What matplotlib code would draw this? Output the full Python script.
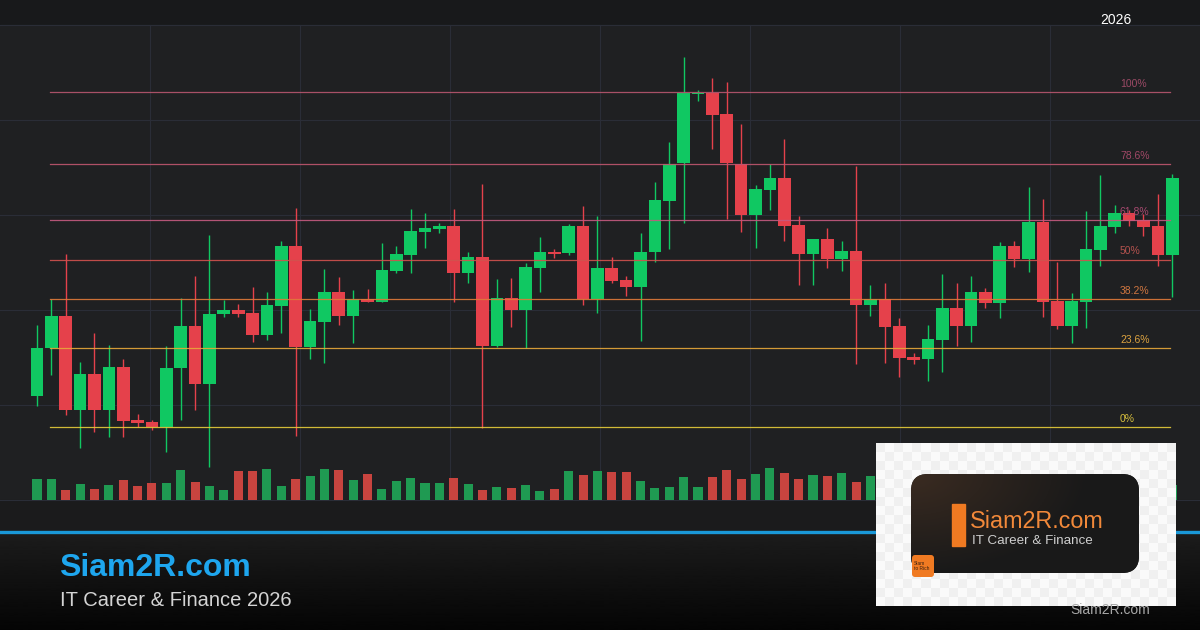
import matplotlib.pyplot as plt
import numpy as np
from matplotlib.patches import FancyBboxPatch, Rectangle

# Daily candles (price units)
opens = [1031, 1079, 1111, 1017, 1053, 1017, 1060, 1007, 1005, 1000,
         1059, 1101, 1043, 1113, 1117, 1114, 1092, 1121, 1181, 1080,
         1105, 1135, 1111, 1128, 1125, 1156, 1172, 1195, 1198, 1201,
         1154, 1170, 1081, 1129, 1117, 1159, 1175, 1174, 1201, 1128,
         1159, 1147, 1140, 1175, 1226, 1264, 1333, 1334, 1313, 1263,
         1212, 1237, 1249, 1202, 1173, 1188, 1168, 1176, 1122, 1128,
         1101, 1070, 1068, 1087, 1119, 1101, 1135, 1124, 1181, 1168,
         1205, 1126, 1101, 1125, 1177, 1200, 1214, 1207, 1201, 1172]
highs = [1102, 1128, 1173, 1065, 1094, 1082, 1068, 1013, 1007, 1081,
         1129, 1151, 1192, 1127, 1123, 1140, 1135, 1186, 1219, 1118,
         1158, 1150, 1137, 1138, 1184, 1181, 1218, 1214, 1204, 1218,
         1175, 1243, 1148, 1149, 1164, 1190, 1178, 1203, 1221, 1211,
         1170, 1151, 1194, 1245, 1285, 1370, 1337, 1349, 1345, 1303,
         1242, 1263, 1288, 1211, 1188, 1199, 1186, 1261, 1142, 1144,
         1109, 1074, 1102, 1153, 1144, 1151, 1139, 1185, 1186, 1240,
         1228, 1165, 1134, 1216, 1252, 1222, 1217, 1213, 1233, 1253]
lows = [1021, 1052, 1012, 979, 995, 990, 990, 1000, 997, 975,
        1007, 1017, 960, 1110, 1110, 1085, 1087, 1094, 991, 1068,
        1064, 1102, 1084, 1125, 1125, 1154, 1154, 1179, 1194, 1125,
        1144, 999, 1080, 1100, 1079, 1135, 1169, 1172, 1122, 1114,
        1144, 1131, 1086, 1165, 1178, 1204, 1326, 1278, 1208, 1195,
        1179, 1217, 1186, 1142, 1142, 1159, 1156, 1063, 1111, 1064,
        1050, 1063, 1046, 1055, 1081, 1085, 1119, 1109, 1160, 1155,
        1110, 1098, 1084, 1099, 1161, 1194, 1201, 1191, 1161, 1130]
closes = [1079, 1111, 1017, 1053, 1017, 1060, 1006, 1004, 1000, 1059,
          1101, 1043, 1113, 1117, 1113, 1092, 1122, 1181, 1080, 1106,
          1135, 1111, 1128, 1125, 1157, 1173, 1196, 1199, 1201, 1154,
          1170, 1081, 1129, 1117, 1160, 1175, 1173, 1201, 1128, 1159,
          1146, 1140, 1175, 1227, 1263, 1334, 1334, 1312, 1264, 1212,
          1238, 1249, 1201, 1173, 1188, 1168, 1176, 1122, 1128, 1100,
          1069, 1067, 1088, 1119, 1101, 1135, 1124, 1181, 1168, 1205,
          1125, 1101, 1126, 1178, 1201, 1214, 1206, 1200, 1172, 1249]
volumes = [210, 210, 100, 160, 110, 150, 200, 140, 170, 170,
           300, 180, 140, 100, 290, 290, 310, 140, 210, 240,
           310, 300, 200, 260, 110, 190, 220, 170, 170, 220,
           160, 100, 130, 120, 150, 90, 110, 290, 250, 290,
           280, 280, 190, 120, 130, 230, 130, 230, 300, 210,
           260, 320, 270, 210, 250, 240, 270, 180, 240, 200,
           150, 120, 220, 180, 160, 250, 140, 280, 170, 260,
           300, 190, 150, 240, 270, 130, 160, 220, 250, 150]

# Fibonacci retracement between the swing low and high
fib_low = 1000
fib_high = 1335
fib_ratios = [0, 0.236, 0.382, 0.5, 0.618, 0.786, 1.0]
fib_labels = ["0%", "23.6%", "38.2%", "50%", "61.8%", "78.6%", "100%"]
fib_colors = ["#e6cc3a", "#e8a83a", "#e07a3a", "#d2524e", "#c45a80", "#c0566f", "#b8566f"]
fib_text_colors = ["#d8c03e", "#dba240", "#cf7640", "#b4524e", "#a84a70", "#a04866", "#9c4a66"]

# Layout (pixels of the 1200x630 canvas)
W, H = 1200, 630
FIRST_X, STEP_X = 37, 14.37
CHART_TOP, CHART_BOTTOM = 25, 500
FIB0_Y, FIB100_Y = 427, 92
VOL_TOP = 440

GREEN, RED = "#10c862", "#e5414b"
VOL_GREEN, VOL_RED = "#1f9a52", "#c8443f"


def px_to_idx(px):
    return (px - FIRST_X) / STEP_X


def draw_background(ax):
    # dark panels
    ax.add_patch(Rectangle((0, 0), W, CHART_TOP, color="#18191b", zorder=0))
    ax.add_patch(Rectangle((0, CHART_TOP), W, CHART_BOTTOM - CHART_TOP, color="#1f2022", zorder=0))
    ax.add_patch(Rectangle((0, CHART_BOTTOM), W, 30, color="#1b1b1c", zorder=0))
    # grid
    for gx in range(150, 1051, 150):
        ax.plot([gx, gx], [CHART_TOP, CHART_BOTTOM], color="#2a2d37", lw=0.8, zorder=1)
    for gy in range(CHART_TOP, CHART_BOTTOM + 1, 95):
        ax.plot([0, W], [gy, gy], color="#2a2d37", lw=0.8, zorder=1)
    # bottom banner
    grad = np.linspace(0.11, 0.02, 100).reshape(-1, 1)
    ax.imshow(grad, cmap="gray", vmin=0, vmax=1, extent=[0, W, H, 533],
              aspect="auto", zorder=0)
    ax.plot([0, W], [531.5, 531.5], color="#1a98d8", lw=2.4, zorder=2)
    ax.text(1100, 20, "2026", color="white", fontsize=10, va="center", ha="left")


def draw_banner(ax):
    ax.text(59, 568, "Siam2R.com", color="#1ea6ee", fontsize=23,
            fontweight="bold", va="center", ha="left")
    ax.text(60, 600, "IT Career & Finance 2026", color="#d4d4d4",
            fontsize=14.5, va="center", ha="left")

    # logo card with transparent-looking checker background
    checks = (np.indices((18, 33)).sum(axis=0) % 2) * 0.04 + 0.94
    ax.imshow(checks, cmap="gray", vmin=0, vmax=1, interpolation="nearest",
              extent=[876, 1176, 606, 443], aspect="auto", zorder=6)
    card = FancyBboxPatch((911, 474), 228, 99, boxstyle="round,pad=0,rounding_size=17",
                          facecolor="#1c1c1c", edgecolor="none", zorder=7)
    ax.add_patch(card)
    gx, gy = np.meshgrid(np.linspace(0, 1, 120), np.linspace(0, 1, 60))
    warm = np.clip(1 - np.hypot(gx * 1.3, gy), 0, 1)
    shade = np.dstack([0.10 + 0.13 * warm, 0.10 + 0.07 * warm, 0.10 + 0.03 * warm])
    img = ax.imshow(shade, extent=[911, 1139, 573, 474], aspect="auto", zorder=7.5)
    img.set_clip_path(card)
    ax.add_patch(Rectangle((952, 504), 13, 42, color="#f07a22", zorder=8))
    ax.text(970, 521, "Siam2R.com", color="#f2893a", fontsize=16.8, va="center", ha="left", zorder=8)
    ax.text(972, 541, "IT Career & Finance", color="#cfcfcf", fontsize=9.6, va="center", ha="left", zorder=8)
    ax.add_patch(FancyBboxPatch((912, 555), 22, 22, boxstyle="round,pad=0,rounding_size=3",
                                facecolor="#f07a22", edgecolor="none", zorder=8))
    ax.text(914, 566, "Siam\nto Rich", color="#3a2010", fontsize=3.5, va="center",
            ha="left", linespacing=1.0, zorder=9)
    ax.text(1070, 610, "Siam2R.com", color="#a8a8a8", fontsize=10, va="center", ha="left", zorder=9)


def draw_candles(ax_price, ax_vol):
    x = np.arange(len(opens))
    o, h, l, c = map(np.array, (opens, highs, lows, closes))
    up = c >= o
    colors = np.where(up, GREEN, RED)
    ax_price.vlines(x, l, h, colors=colors, lw=1, zorder=2)
    body = np.maximum(np.abs(c - o), 1.5)
    ax_price.bar(x, body, bottom=np.minimum(o, c), width=0.88, color=colors, zorder=3)

    # fib levels over the candles
    x0, x1 = px_to_idx(50), px_to_idx(1170)
    for r, lab, col, tcol in zip(fib_ratios, fib_labels, fib_colors, fib_text_colors):
        lvl = fib_low + r * (fib_high - fib_low)
        ax_price.plot([x0, x1], [lvl, lvl], color=col, lw=0.9, alpha=0.9, zorder=4)
        ax_price.text(px_to_idx(1120), lvl + 8, lab, color=tcol, fontsize=7.5,
                      va="center", ha="left", zorder=4)

    ax_vol.bar(x, volumes, width=0.63, color=np.where(up, VOL_GREEN, VOL_RED))


if __name__ == "__main__":
    plt.rcParams["font.family"] = ["Liberation Sans", "DejaVu Sans"]

    fig = plt.figure(figsize=(12, 6.3), dpi=100)
    fig.patch.set_facecolor("#1f2022")

    bg = fig.add_axes([0, 0, 1, 1], zorder=0)
    bg.set_xlim(0, W)
    bg.set_ylim(H, 0)
    bg.axis("off")
    draw_background(bg)

    xlim = (px_to_idx(0), px_to_idx(W))
    scale = (fib_high - fib_low) / (FIB0_Y - FIB100_Y)

    ax_price = fig.add_axes([0, (H - CHART_BOTTOM) / H, 1, (CHART_BOTTOM - CHART_TOP) / H], zorder=2)
    ax_price.set_xlim(*xlim)
    ax_price.set_ylim(fib_low - (CHART_BOTTOM - FIB0_Y) * scale,
                      fib_low + (FIB0_Y - CHART_TOP) * scale)
    ax_price.axis("off")

    ax_vol = fig.add_axes([0, (H - CHART_BOTTOM) / H, 1, (CHART_BOTTOM - VOL_TOP) / H], zorder=1)
    ax_vol.set_xlim(*xlim)
    ax_vol.set_ylim(0, (CHART_BOTTOM - VOL_TOP) * 10)
    ax_vol.axis("off")

    draw_candles(ax_price, ax_vol)

    top = fig.add_axes([0, 0, 1, 1], zorder=5)
    top.set_xlim(0, W)
    top.set_ylim(H, 0)
    top.axis("off")
    top.patch.set_alpha(0)
    draw_banner(top)

    fig.savefig("out.png", dpi=100)
